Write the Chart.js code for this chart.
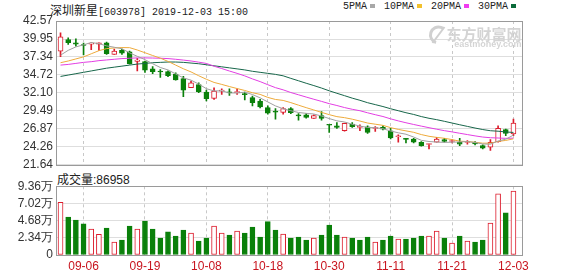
<!DOCTYPE html>
<html>
<head>
<meta charset="utf-8">
<script src="https://cdn.jsdelivr.net/npm/chart.js@4.4.1/dist/chart.umd.min.js"></script>
<style>
  html, body { margin: 0; padding: 0; background: #fff; }
  body { width: 578px; height: 276px; position: relative; overflow: hidden; }
  canvas { position: absolute; left: 0; }
  #priceCanvas { top: 0; }
  #volCanvas { top: 175px; }
  .txt { position: absolute; white-space: nowrap; color: #222; line-height: 14px; }
  .cjk { font: 12px "Noto Sans CJK SC", sans-serif; }
  .mono { font: 10px "Liberation Mono", "DejaVu Sans Mono", monospace; }
  #title { left: 50px; top: 1px; }
  #legend { left: 343px; top: 1px; }
  #legend .item { display: inline-block; margin-right: 9px; }
  #legend .sw { display: inline-block; width: 5px; height: 4px; margin-left: 3px; vertical-align: 1px; }
  #volTitle { left: 57px; top: 170px; font: 12px "Noto Sans CJK SC", sans-serif; }
  #volTitle .num { font: 12px "Liberation Sans", Arial, sans-serif; }
</style>
</head>
<body>
<div id="title" class="txt"><span class="cjk">深圳新星</span><span class="mono">[603978] 2019-12-03 15:00</span></div>
<div id="legend" class="txt mono"></div>
<div id="volTitle" class="txt"></div>
<canvas id="priceCanvas" width="578" height="175"></canvas>
<canvas id="volCanvas" width="578" height="101"></canvas>
<script>
// ---- trading days ----
const dates = ['09-03','09-04','09-05','09-06','09-09','09-10','09-11','09-12','09-16','09-17',
  '09-18','09-19','09-20','09-23','09-24','09-25','09-26','09-27','09-30','10-08',
  '10-09','10-10','10-11','10-14','10-15','10-16','10-17','10-18','10-21','10-22',
  '10-23','10-24','10-25','10-28','10-29','10-30','10-31','11-01','11-04','11-05',
  '11-06','11-07','11-08','11-11','11-12','11-13','11-14','11-15','11-18','11-19',
  '11-20','11-21','11-22','11-25','11-26','11-27','11-28','11-29','12-02','12-03'];

// ---- daily prices ----
const opens = [38.19,39.88,39.40,39.15,39.20,39.20,39.40,37.71,38.29,38.10,
  36.70,36.65,35.60,35.25,35.20,34.85,34.20,32.85,33.33,32.23,
  31.31,32.37,32.20,32.15,31.95,31.41,30.93,29.97,29.40,29.25,
  29.82,28.80,28.90,28.38,28.81,27.48,27.32,26.60,27.56,27.08,
  27.18,26.92,27.08,26.60,25.72,25.50,25.40,24.92,24.60,24.92,
  25.31,25.03,24.92,24.88,24.92,24.44,24.20,25.02,26.75,26.12];
const highs = [40.84,40.12,39.97,39.35,39.40,39.40,39.49,38.48,38.48,38.19,
  37.14,36.75,35.93,35.50,35.30,35.02,34.53,33.81,33.57,32.51,
  32.85,32.71,32.71,32.71,32.23,31.65,31.17,30.21,29.82,29.97,
  29.97,29.10,29.10,28.91,29.39,27.50,27.80,27.70,27.80,27.47,
  27.32,27.22,27.32,26.94,26.02,25.50,25.50,25.02,24.68,25.64,
  25.50,25.30,25.50,25.16,25.02,24.53,25.30,27.33,26.84,28.29];
const lows = [37.38,39.16,38.91,37.62,38.40,38.30,37.71,37.71,37.71,36.27,
  35.30,35.07,34.92,34.35,34.45,33.96,31.55,32.85,32.13,30.93,
  31.17,31.89,31.75,31.90,31.07,30.21,29.92,29.00,28.28,29.00,
  29.10,28.14,28.43,28.38,28.14,26.36,26.94,26.55,27.08,26.60,
  26.21,26.50,26.70,25.40,24.92,24.82,24.82,24.34,23.96,24.92,
  24.92,24.82,24.44,24.63,24.53,23.96,23.72,24.92,25.88,25.88];
const closes = [40.26,39.40,39.20,39.00,39.35,39.38,37.81,38.19,37.90,36.36,
  36.90,35.40,35.20,35.15,34.60,34.00,32.50,33.57,32.27,31.26,
  32.37,32.51,32.10,32.20,31.85,30.69,30.06,29.15,29.30,29.82,
  29.24,28.75,28.52,28.81,28.38,27.40,27.08,27.66,27.18,27.08,
  26.36,26.98,26.84,25.54,25.76,25.33,24.92,24.44,24.68,25.40,
  25.06,25.08,24.63,24.93,24.68,24.05,24.92,26.94,26.22,27.71];

// ---- volume (lots) ----
const volumes = [71800,51800,47700,42300,35400,28200,36800,17700,20400,39500,
  35400,46300,35400,23200,31400,25900,34100,30000,19100,23200,
  39500,30000,27300,32700,30000,38200,24500,45400,34100,28600,
  23200,24500,20400,23200,27300,40900,27300,24500,23200,20400,
  24500,17700,20400,25900,21800,21800,23200,25900,25900,32700,
  23200,16400,25900,19100,17700,20400,43600,83200,57300,86958];

// ---- moving averages ----
const ma5 = [37.60,38.30,38.80,39.10,39.44,39.27,38.95,38.75,38.53,37.93,
  37.43,36.95,36.35,35.80,35.45,34.87,34.29,33.96,33.39,32.72,
  32.39,32.40,32.10,32.09,32.21,31.87,31.38,30.79,30.21,29.80,
  29.51,29.25,29.13,29.03,28.74,28.37,28.04,27.87,27.54,27.28,
  27.07,27.05,26.89,26.56,26.30,26.09,25.68,25.20,25.03,24.95,
  24.90,24.93,24.97,25.02,24.88,24.67,24.64,25.10,25.36,25.97];
const ma10 = [36.50,36.75,37.05,37.35,37.80,38.25,38.55,38.65,38.70,38.69,
  38.35,37.95,37.55,37.16,36.69,36.15,35.62,35.16,34.60,34.09,
  33.63,33.34,33.03,32.74,32.46,32.13,31.89,31.45,31.15,31.01,
  30.69,30.32,29.96,29.62,29.27,28.94,28.65,28.50,28.28,28.01,
  27.72,27.55,27.38,27.05,26.79,26.58,26.37,26.04,25.79,25.63,
  25.50,25.31,25.08,25.02,24.92,24.79,24.79,25.04,25.19,25.42];
const ma20 = [36.15,36.25,36.40,36.55,36.65,36.80,36.90,37.00,37.10,37.15,
  37.20,37.20,37.18,37.15,37.10,37.00,36.88,36.75,36.58,36.39,
  35.99,35.65,35.29,34.95,34.58,34.14,33.75,33.30,32.87,32.55,
  32.16,31.83,31.50,31.18,30.87,30.54,30.27,29.97,29.72,29.51,
  29.21,28.93,28.67,28.33,28.03,27.76,27.51,27.27,27.04,26.82,
  26.61,26.43,26.23,26.04,25.85,25.68,25.58,25.54,25.49,25.52];
const ma30 = [34.50,34.70,34.90,35.10,35.30,35.50,35.70,35.85,36.00,36.15,
  36.30,36.40,36.50,36.55,36.60,36.60,36.55,36.45,36.35,36.20,
  36.05,35.90,35.75,35.60,35.45,35.25,35.10,34.95,34.80,34.59,
  34.22,33.87,33.51,33.17,32.81,32.41,32.05,31.70,31.34,31.03,
  30.68,30.40,30.12,29.80,29.51,29.22,28.97,28.66,28.41,28.21,
  27.97,27.72,27.47,27.23,26.99,26.77,26.60,26.53,26.42,26.35];

// ---- axis ticks ----
const priceTicks = [21.64, 24.26, 26.87, 29.49, 32.10, 34.72, 37.34, 39.95, 42.57];
const volTicks = [0, 23400, 46800, 70200, 93600];
const volTickLabels = ['0', '2.34万', '4.68万', '7.02万', '9.36万'];
const dateTicks = ['09-06', '09-19', '10-08', '10-18', '10-30', '11-11', '11-21', '12-03'];
const maNames = ['5PMA', '10PMA', '20PMA', '30PMA'];

// ---- styling ----
const UP = '#dc1c2c', DOWN = '#0a800a';
const maColors = ['#a0a0a0', '#eeab3c', '#e33ee3', '#17664a'];
const legendSwatch = ['#a8a8a8', '#f2c12e', '#f03cf0', '#0b6b3a'];
const FRAME = '#9a9a9a', GRID = '#dedede', VGRID = '#c8c8c8';

Chart.defaults.font.family = '"Liberation Sans", Arial, sans-serif';
Chart.defaults.font.size = 12;

// header legend and volume caption
document.getElementById('legend').innerHTML = maNames.map((n, k) =>
  '<span class="item">' + n + '<span class="sw" style="background:' + legendSwatch[k] + '"></span></span>').join('');
document.getElementById('volTitle').innerHTML = '成交量<span class="num">:' + volumes[volumes.length - 1] + '</span>';

const candleUp = i => closes[i] >= opens[i];
const volUp = i => closes[i] > opens[i];
const tickIdx = dateTicks.map(d => dates.indexOf(d));

function xAxis(showLabels) {
  return {
    type: 'linear', min: -0.59, max: 60.18, offset: false,
    afterBuildTicks: s => { s.ticks = tickIdx.map(v => ({ value: v })); },
    afterFit: s => { s.height = showLabels ? 21 : 0; },
    grid: { color: VGRID, drawTicks: false, offset: false, borderDash: [3, 3] },
    border: { display: false, dash: [3, 3] },
    ticks: {
      display: showLabels, padding: 4, color: '#c8141e', autoSkip: false, maxRotation: 0,
      callback: v => dates[v]
    }
  };
}

// outer frame of each panel
const framePlugin = {
  id: 'frame',
  afterDatasetsDraw(chart) {
    const a = chart.chartArea, ctx = chart.ctx;
    ctx.save();
    ctx.strokeStyle = FRAME; ctx.lineWidth = 1;
    ctx.strokeRect(Math.round(a.left) + 0.5, Math.round(a.top) + 0.5,
      Math.round(a.right - a.left) - 1, Math.round(a.bottom - a.top));
    ctx.restore();
  }
};

// faint site mark in the top right corner of the price panel
const markPlugin = {
  id: 'mark',
  beforeDatasetsDraw(chart) {
    const a = chart.chartArea, ctx = chart.ctx;
    ctx.save();
    ctx.fillStyle = '#d4d4d4';
    ctx.textAlign = 'right';
    ctx.textBaseline = 'alphabetic';
    ctx.font = 'bold 15px "Noto Sans CJK SC", sans-serif';
    ctx.fillText('东方财富网', a.right - 1, a.top + 19);
    ctx.font = 'bold 9px "Liberation Sans", Arial, sans-serif';
    ctx.fillText('eastmoney.com', a.right - 1, a.top + 26);
    // swirl logo
    ctx.strokeStyle = '#d0d0d0'; ctx.lineWidth = 3;
    ctx.beginPath();
    ctx.arc(a.right - 84, a.top + 14, 8, Math.PI * 0.6, Math.PI * 1.7);
    ctx.stroke();
    ctx.lineWidth = 2;
    ctx.beginPath();
    ctx.moveTo(a.right - 90, a.top + 22);
    ctx.lineTo(a.right - 78, a.top + 6);
    ctx.stroke();
    ctx.restore();
  }
};

const maDatasets = [ma5, ma10, ma20, ma30].map((arr, k) => ({
  type: 'line', label: maNames[k], data: arr.map((v, i) => ({ x: i, y: v })),
  borderColor: maColors[k], borderWidth: 1, pointRadius: 0, tension: 0, order: 0
}));

new Chart(document.getElementById('priceCanvas'), {
  type: 'bar',
  data: {
    datasets: [
      ...maDatasets,
      {
        label: 'body', order: 1, grouped: false,
        data: dates.map((d, i) => ({ x: i, y: [opens[i], closes[i]] })),
        backgroundColor: c => candleUp(c.dataIndex) ? '#ffffff' : DOWN,
        borderColor: c => candleUp(c.dataIndex) ? UP : DOWN,
        borderWidth: 1, borderSkipped: false, barThickness: 5, minBarLength: 1
      },
      {
        label: 'wick', order: 2, grouped: false,
        data: dates.map((d, i) => ({ x: i, y: [lows[i], highs[i]] })),
        backgroundColor: c => candleUp(c.dataIndex) ? UP : DOWN,
        borderWidth: 0, barThickness: 1
      }
    ]
  },
  options: {
    responsive: false, animation: false, devicePixelRatio: 1,
    layout: { padding: { left: 0, right: 55.5, top: 21, bottom: 9.5 } },
    plugins: { legend: { display: false }, tooltip: { enabled: false } },
    scales: {
      x: xAxis(false),
      y: {
        min: 21.64, max: 42.57,
        afterBuildTicks: s => { s.ticks = priceTicks.map(v => ({ value: v })); },
        afterFit: s => { s.width = 56; },
        grid: { color: GRID, drawTicks: false },
        border: { display: false },
        ticks: { padding: 3, color: '#333', autoSkip: false, callback: v => v.toFixed(2) }
      }
    }
  },
  plugins: [markPlugin, framePlugin]
});

new Chart(document.getElementById('volCanvas'), {
  type: 'bar',
  data: {
    datasets: [{
      label: 'volume', grouped: false,
      data: volumes.map((v, i) => ({ x: i, y: v })),
      backgroundColor: c => volUp(c.dataIndex) ? '#ffffff' : DOWN,
      borderColor: c => volUp(c.dataIndex) ? UP : DOWN,
      borderWidth: 1, borderSkipped: false, barThickness: 5
    }]
  },
  options: {
    responsive: false, animation: false, devicePixelRatio: 1,
    layout: { padding: { left: 0, right: 55.5, top: 11.3, bottom: 0 } },
    plugins: { legend: { display: false }, tooltip: { enabled: false } },
    scales: {
      x: xAxis(true),
      y: {
        min: 0, max: 93600,
        afterBuildTicks: s => { s.ticks = volTicks.map(v => ({ value: v })); },
        afterFit: s => { s.width = 56; },
        grid: { color: GRID, drawTicks: false },
        border: { display: false },
        ticks: { padding: 3, color: '#333', autoSkip: false, callback: v => volTickLabels[volTicks.indexOf(v)] }
      }
    }
  },
  plugins: [framePlugin]
});
</script>
</body>
</html>
